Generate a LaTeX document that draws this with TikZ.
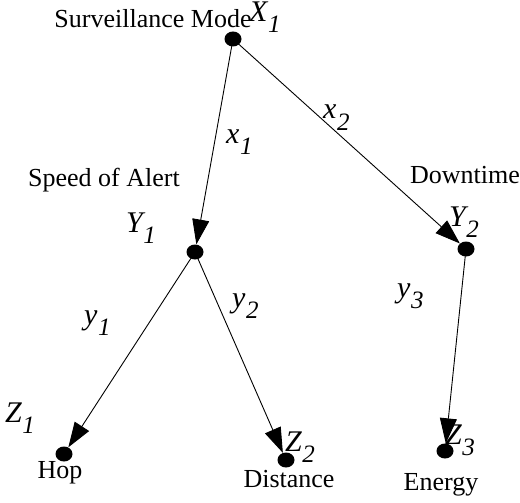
\documentclass[tikz,border=0pt]{standalone}
\usepackage{fontspec}
\setmainfont{Liberation Serif}
\usetikzlibrary{arrows.meta,shapes.geometric}
\newcommand{\lab}[2]{{\itshape\fontsize{30}{30}\selectfont #1\kern0.5pt\raisebox{-11pt}{\fontsize{25}{25}\selectfont #2}}}
\tikzset{
  dot/.style={ellipse,fill=black,inner sep=0pt,minimum width=17pt,minimum height=15pt},
  arr/.style={line width=0.9pt,-{Triangle[length=25pt,width=17pt]}},
  word/.style={font=\fontsize{26}{26}\selectfont,inner sep=0pt,anchor=base},
  var/.style={inner sep=0pt,anchor=base west}
}
\begin{document}
\begin{tikzpicture}[x=1pt,y=-1pt]
\useasboundingbox (0,0) rectangle (520,503);
\node[dot] (X1) at (233,39) {};
\node[dot] (Y1) at (195,252) {};
\node[dot] (Y2) at (466,249) {};
\node[dot] (Z1) at (64,454) {};
\node[dot] (Z2) at (286,460) {};
\node[dot] (Z3) at (445,451) {};
\draw[arr] (X1.center) -- (Y1);
\draw[arr] (X1.center) -- (Y2);
\draw[arr] (Y1.center) -- (Z1);
\draw[arr] (Y1.center) -- (Z2);
\draw[arr] (Y2.center) -- (Z3);
\node[word] (tSM) at (153,28) {Surveillance Mode};
\node[word] (tSA) at (104,186) {Speed of Alert};
\node[word] (tDT) at (465,183) {Downtime};
\node[word] (tHop) at (60,478) {Hop};
\node[word] (tDist) at (289,487) {Distance};
\node[word] (tEn) at (441,490) {Energy};
\node[var] (lX1) at (249,22) {\lab{X}{1}};
\node[var] (lY1) at (126,232) {\lab{Y}{1}};
\node[var] (lY2) at (449,226) {\lab{Y}{2}};
\node[var] (lZ1) at (5,422) {\lab{Z}{1}};
\node[var] (lZ2) at (285,451) {\lab{Z}{2}};
\node[var] (lZ3) at (445,444) {\lab{Z}{3}};
\node[var] (lx1) at (226,143) {\lab{x}{1}};
\node[var] (lx2) at (323,119) {\lab{x}{2}};
\node[var] (ly1) at (84,324) {\lab{y}{1}};
\node[var] (ly2) at (232,307) {\lab{y}{2}};
\node[var] (ly3) at (397,297) {\lab{y}{3}};
\end{tikzpicture}
\end{document}
